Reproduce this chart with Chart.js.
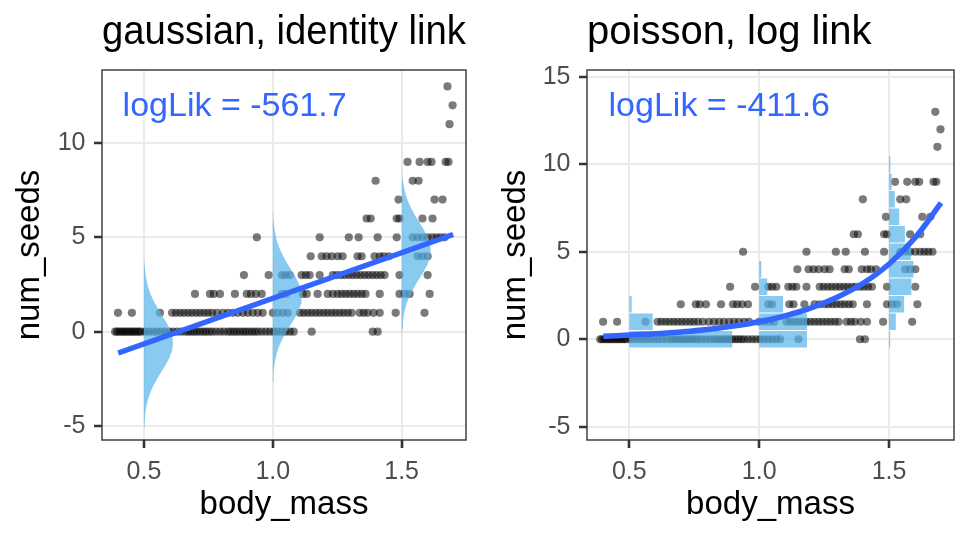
<!DOCTYPE html>
<html>
<head>
<meta charset="utf-8">
<script src="https://cdn.jsdelivr.net/npm/chart.js@4.4.1/dist/chart.umd.min.js"></script>
<style>
  html, body { margin: 0; padding: 0; background: #fff; }
  #wrap { position: relative; width: 972px; height: 540px; }
  .panel { position: absolute; top: 0; width: 486px; height: 540px; }
</style>
</head>
<body>
<div id="wrap">
  <div class="panel" style="left:0"><canvas id="gaussChart" width="486" height="540"></canvas></div>
  <div class="panel" style="left:486px"><canvas id="poisChart" width="486" height="540"></canvas></div>
</div>
<script>
// ==============================
// Datos: body_mass de cada punto, agrupado por num_seeds
// ==============================
const seedCounts = [0, 1, 2, 3, 4, 5, 6, 7, 8, 9, 11, 12, 13];
const mass0 = [0.388, 0.395, 0.403, 0.411, 0.419, 0.426, 0.434, 0.442, 0.450, 0.457, 0.465, 0.473, 0.481, 0.488,
  0.504, 0.519, 0.535, 0.550, 0.566, 0.581, 0.597, 0.612, 0.628, 0.643, 0.659, 0.671, 0.682, 0.694, 0.705, 0.717,
  0.729, 0.740, 0.752, 0.764, 0.779, 0.795, 0.810, 0.826, 0.837, 0.849, 0.860, 0.872, 0.884, 0.895, 0.907, 0.919,
  0.930, 0.942, 0.957, 0.973, 0.988, 1.004, 1.019, 1.035, 1.050, 1.066, 1.081, 1.151, 1.388, 1.407];
const mass1 = [0.399, 0.453, 0.562, 0.609, 0.624, 0.640, 0.655, 0.671, 0.686, 0.702, 0.717, 0.733, 0.748, 0.764,
  0.783, 0.806, 0.826, 0.845, 0.864, 0.884, 0.903, 0.922, 0.942, 0.961, 1.000, 1.019, 1.039, 1.058, 1.105, 1.120,
  1.136, 1.151, 1.167, 1.182, 1.198, 1.213, 1.229, 1.244, 1.260, 1.275, 1.291, 1.306, 1.337, 1.353, 1.368, 1.391,
  1.415, 1.477, 1.589];
const mass2 = [0.698, 0.756, 0.771, 0.795, 0.853, 0.899, 0.915, 0.934, 0.957, 1.035, 1.050, 1.116, 1.132, 1.174,
  1.213, 1.233, 1.252, 1.267, 1.283, 1.298, 1.314, 1.329, 1.345, 1.360, 1.415, 1.492, 1.512, 1.531, 1.609];
const mass3 = [0.888, 0.984, 1.035, 1.050, 1.066, 1.112, 1.128, 1.143, 1.182, 1.233, 1.248, 1.264, 1.279, 1.295,
  1.310, 1.326, 1.341, 1.357, 1.372, 1.388, 1.403, 1.419, 1.434, 1.492, 1.601];
const mass4 = [1.147, 1.190, 1.209, 1.229, 1.252, 1.271, 1.329, 1.345, 1.395, 1.415, 1.430, 1.450, 1.562, 1.581, 1.601];
const mass5 = [0.938, 1.182, 1.295, 1.333, 1.407, 1.481, 1.543, 1.562, 1.581, 1.601, 1.620, 1.636, 1.651, 1.667];
const mass6 = [1.364, 1.380, 1.481, 1.492, 1.581, 1.620];
const mass7 = [1.488, 1.628, 1.659];
const mass8 = [1.399, 1.543, 1.566];
const mass9 = [1.523, 1.570, 1.601, 1.616, 1.671, 1.682];
const mass11 = [1.686];
const mass12 = [1.698];
const mass13 = [1.678];
const massBySeeds = [mass0, mass1, mass2, mass3, mass4, mass5, mass6, mass7, mass8, mass9, mass11, mass12, mass13];

// Ejes
const xTicks = [0.5, 1.0, 1.5];
const yTicksGauss = [-5, 0, 5, 10];
const yTicksPois = [-5, 0, 5, 10, 15];

// Curvas ajustadas
const gaussFitX = [0.4, 1.7];
const gaussFitY = [-1.13, 5.15];
const poisFitX = [0.4, 0.5, 0.6, 0.7, 0.8, 0.9, 1.0, 1.1, 1.2, 1.3, 1.4, 1.5, 1.6, 1.7];
const poisFitY = [0.17, 0.24, 0.31, 0.42, 0.56, 0.75, 1.0, 1.34, 1.79, 2.4, 3.2, 4.3, 5.8, 7.8];

// Distribuciones condicionales en body_mass = 0.5, 1.0, 1.5
const densityAt = [0.5, 1.0, 1.5];
const gaussMean = [-0.6, 1.85, 4.3];
const gaussSd = 1.5;
const gaussPeakWidth = 0.113;
const gaussShapeZ = [-3, -2.75, -2.5, -2.25, -2, -1.75, -1.5, -1.25, -1, -0.75, -0.5, -0.25, 0,
  0.25, 0.5, 0.75, 1, 1.25, 1.5, 1.75, 2, 2.25, 2.5, 2.75, 3];
const gaussShapeH = [0.011, 0.023, 0.044, 0.080, 0.135, 0.216, 0.325, 0.458, 0.607, 0.755, 0.883, 0.969, 1,
  0.969, 0.883, 0.755, 0.607, 0.458, 0.325, 0.216, 0.135, 0.080, 0.044, 0.023, 0.011];
const poisWidth05 = [0.396, 0.090, 0.009, 0.001];
const poisWidth10 = [0.184, 0.184, 0.092, 0.031, 0.008, 0.0015];
const poisWidth15 = [0.004, 0.026, 0.058, 0.086, 0.094, 0.084, 0.061, 0.039, 0.022, 0.010, 0.005, 0.002];

const logLikGauss = 'logLik = -561.7';
const logLikPois = 'logLik = -411.6';

// ==============================
// Estilos
// ==============================
const FAMILY = "'Liberation Sans', Arial, sans-serif";
const ptColor = 'rgba(0,0,0,0.52)';
const fitColor = '#3366FF';
const distFill = 'rgba(86,180,233,0.7)';
const TICK_LEN = 8;
Chart.defaults.font.family = FAMILY;

function pointData() {
  const out = [];
  seedCounts.forEach((k, i) => massBySeeds[i].forEach(m => out.push({ x: m, y: k })));
  return out;
}

function pointsDataset() {
  return {
    data: pointData(), order: 3,
    pointRadius: 4.1, pointHoverRadius: 4.1,
    backgroundColor: ptColor, borderWidth: 0
  };
}

function lineDataset(xs, ys, tension) {
  return {
    data: xs.map((x, i) => ({ x: x, y: ys[i] })), order: 1,
    showLine: true, pointRadius: 0, borderColor: fitColor, borderWidth: 5.5,
    tension: tension, fill: false, borderCapStyle: 'butt'
  };
}

function shapeDataset(pts) {
  return {
    data: pts, order: 2, showLine: true, pointRadius: 0,
    borderWidth: 0, borderColor: 'rgba(0,0,0,0)', backgroundColor: distFill,
    fill: 'shape', tension: 0
  };
}

// Densidad gaussiana dibujada hacia la derecha de cada x
function gaussShapes() {
  return densityAt.map((x0, j) => {
    const pts = gaussShapeZ.map((z, i) => ({ x: x0 + gaussPeakWidth * gaussShapeH[i], y: gaussMean[j] + z * gaussSd }));
    pts.push({ x: x0, y: gaussMean[j] + 3 * gaussSd });
    pts.push({ x: x0, y: gaussMean[j] - 3 * gaussSd });
    return shapeDataset(pts);
  });
}

// Barras de probabilidad de Poisson (una por valor k)
function poisBars() {
  const gap = 0.03;
  const out = [];
  [poisWidth05, poisWidth10, poisWidth15].forEach((widths, j) => {
    const x0 = densityAt[j];
    widths.forEach((w, k) => {
      out.push(shapeDataset([
        { x: x0, y: k - 0.5 + gap }, { x: x0 + w, y: k - 0.5 + gap },
        { x: x0 + w, y: k + 0.5 - gap }, { x: x0, y: k + 0.5 - gap },
        { x: x0, y: k - 0.5 + gap }
      ]));
    });
  });
  return out;
}

// Borde del panel y marcas de los ejes
const panelBorder = {
  id: 'panelBorder',
  afterRender(chart) {
    const ctx = chart.canvas.getContext('2d');
    const a = chart.chartArea;
    const xs = chart.scales.x, ys = chart.scales.y;
    ctx.save();
    ctx.setTransform(1, 0, 0, 1, 0, 0);
    ctx.strokeStyle = '#333333';
    ctx.lineWidth = 2.6;
    ctx.beginPath();
    xTicks.forEach(v => {
      const px = Math.round(xs.getPixelForValue(v));
      ctx.moveTo(px, a.bottom);
      ctx.lineTo(px, a.bottom + TICK_LEN);
    });
    chart.options.scales.y.tickValues.forEach(v => {
      const py = Math.round(ys.getPixelForValue(v));
      ctx.moveTo(a.left - TICK_LEN, py);
      ctx.lineTo(a.left, py);
    });
    ctx.stroke();
    ctx.lineWidth = 1.4;
    ctx.strokeRect(a.left, a.top, a.right - a.left, a.bottom - a.top);
    ctx.restore();
  }
};

// Etiqueta logLik en coordenadas de datos
const logLikLabel = {
  id: 'logLikLabel',
  afterDatasetsDraw(chart, args, opts) {
    const { ctx, scales: { x, y } } = chart;
    ctx.save();
    ctx.fillStyle = fitColor;
    ctx.font = '34px ' + FAMILY;
    ctx.textAlign = 'left';
    ctx.textBaseline = 'middle';
    ctx.fillText(opts.text, x.getPixelForValue(opts.x), y.getPixelForValue(opts.y));
    ctx.restore();
  }
};

function makePanel(canvasId, cfg) {
  return new Chart(document.getElementById(canvasId), {
    type: 'scatter',
    data: { datasets: cfg.datasets },
    options: {
      responsive: false,
      animation: false,
      events: [],
      layout: { padding: { left: cfg.padLeft, right: cfg.padRight, top: 0, bottom: 0 } },
      plugins: {
        legend: { display: false },
        tooltip: { enabled: false },
        title: {
          display: true, text: cfg.title, align: 'start', fullSize: false,
          color: '#000', font: { size: 40, weight: 'normal' },
          padding: { top: 8.5, bottom: 13.5 }
        },
        logLikLabel: cfg.label
      },
      scales: {
        x: {
          type: 'linear', min: 0.337, max: 1.75,
          afterBuildTicks: s => { s.ticks = xTicks.map(v => ({ value: v })); },
          afterFit: s => { s.height = 100; },
          border: { display: false },
          grid: { color: '#EBEBEB', lineWidth: 2, tickLength: TICK_LEN, tickColor: 'rgba(0,0,0,0)' },
          ticks: { color: '#4D4D4D', font: { size: 25 }, padding: 9, callback: v => v.toFixed(1) },
          title: { display: true, text: 'body_mass', color: '#000', font: { size: 33 }, padding: { top: 0, bottom: 15 } }
        },
        y: {
          type: 'linear', min: cfg.yMin, max: cfg.yMax,
          tickValues: cfg.yTicks,
          afterBuildTicks: s => { s.ticks = cfg.yTicks.map(v => ({ value: v })); },
          afterFit: s => { s.width = cfg.yWidth; },
          border: { display: false },
          grid: { color: '#EBEBEB', lineWidth: 2, tickLength: TICK_LEN, tickColor: 'rgba(0,0,0,0)' },
          ticks: { color: '#4D4D4D', font: { size: 25 }, padding: 8.5, callback: v => String(v) },
          title: { display: true, text: 'num_seeds', color: '#000', font: { size: 33 }, padding: { top: 10.5, bottom: 0 } }
        }
      }
    },
    plugins: [panelBorder, logLikLabel]
  });
}

window.addEventListener('DOMContentLoaded', () => {
  makePanel('gaussChart', {
    title: 'gaussian, identity link',
    datasets: [pointsDataset()].concat(gaussShapes(), [lineDataset(gaussFitX, gaussFitY, 0)]),
    yMin: -5.74, yMax: 13.87, yTicks: yTicksGauss,
    padLeft: 0, padRight: 20, yWidth: 102,
    label: { text: logLikGauss, x: 0.417, y: 11.95 }
  });
  makePanel('poisChart', {
    title: 'poisson, log link',
    datasets: [pointsDataset()].concat(poisBars(), [lineDataset(poisFitX, poisFitY, 0.4)]),
    yMin: -5.76, yMax: 15.39, yTicks: yTicksPois,
    padLeft: 0, padRight: 18, yWidth: 101,
    label: { text: logLikPois, x: 0.42, y: 13.3 }
  });
});
</script>
</body>
</html>
